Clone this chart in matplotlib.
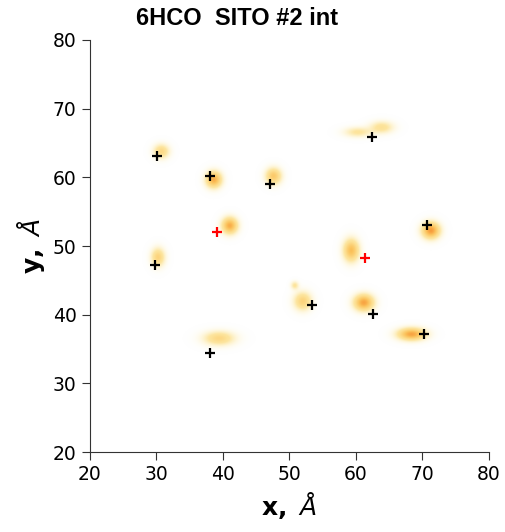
import numpy as np
import matplotlib
matplotlib.use('Agg')
import matplotlib.pyplot as plt
from matplotlib.colors import LinearSegmentedColormap

# density blobs (centre, spread, peak)
blob_x = [30.7, 38.6, 47.6, 41.0, 60.3, 63.9, 71.3, 30.2, 59.3, 50.8, 52.0, 61.2, 68.4, 39.4]
blob_y = [63.7, 59.6, 60.1, 52.9, 66.5, 67.2, 52.2, 48.3, 49.3, 44.2, 41.9, 41.7, 37.1, 36.5]
blob_sx = [0.8, 0.8, 0.8, 0.8, 1.4, 1.2, 0.9, 0.7, 0.8, 0.4, 0.9, 1.0, 1.4, 1.6]
blob_sy = [0.7, 0.8, 0.8, 0.8, 0.5, 0.6, 0.8, 0.9, 1.1, 0.4, 0.9, 0.8, 0.6, 0.7]
blob_peak = [0.45, 0.8, 0.6, 0.8, 0.3, 0.35, 0.9, 0.5, 0.7, 0.3, 0.5, 0.85, 0.85, 0.45]

# reference positions
black_x = [30.1, 38.0, 47.1, 62.4, 70.7, 29.8, 53.4, 62.6, 70.2, 38.0]
black_y = [63.1, 60.2, 59.1, 65.9, 53.1, 47.2, 41.4, 40.1, 37.2, 34.5]
red_x = [39.1, 61.4]
red_y = [52.1, 48.3]

# grille de densité
gx = np.linspace(20, 80, 600)
gy = np.linspace(20, 80, 600)
X, Y = np.meshgrid(gx, gy)
Z = np.zeros_like(X)
for bx, by, sx, sy, p in zip(blob_x, blob_y, blob_sx, blob_sy, blob_peak):
    Z += p * np.exp(-0.5 * (((X - bx) / sx) ** 2 + ((Y - by) / sy) ** 2))
Z = np.clip(Z, 0, 1)

cmap = LinearSegmentedColormap.from_list('blob', ['#fdeeb0', '#fde39a', '#fbc45e', '#f58a2c'])
rgba = cmap(Z)
rgba[..., 3] = np.clip(Z * 3.5, 0, 1)

fig = plt.figure(figsize=(5.05, 5.32), dpi=100)
ax = fig.add_axes([0.178, 0.150, 0.790, 0.775])
ax.imshow(rgba, extent=(20, 80, 20, 80), origin='lower', interpolation='bilinear', aspect='auto')
ax.scatter(black_x, black_y, marker='+', s=60, c='black', linewidths=1.6, zorder=3)
ax.scatter(red_x, red_y, marker='+', s=60, c='red', linewidths=1.6, zorder=3)

ax.set_xlim(20, 80)
ax.set_ylim(20, 80)
ax.set_xticks(range(20, 81, 10))
ax.set_yticks(range(20, 81, 10))
ax.tick_params(labelsize=13.5, color='#333333', length=6)
for s in ['top', 'right']:
    ax.spines[s].set_visible(False)
for s in ['left', 'bottom']:
    ax.spines[s].set_color('#333333')
ax.set_xlabel(r'$\mathbf{x,}$ $\AA$', fontsize=18, labelpad=4)
ax.set_ylabel(r'$\mathbf{y,}$ $\AA$', fontsize=18, labelpad=4)
fig.text(0.469, 0.966, '6HCO  SITO #2 int', family='Liberation Sans', weight='bold',
         fontsize=17, ha='center', va='center')

fig.savefig('out.png', dpi=100)
